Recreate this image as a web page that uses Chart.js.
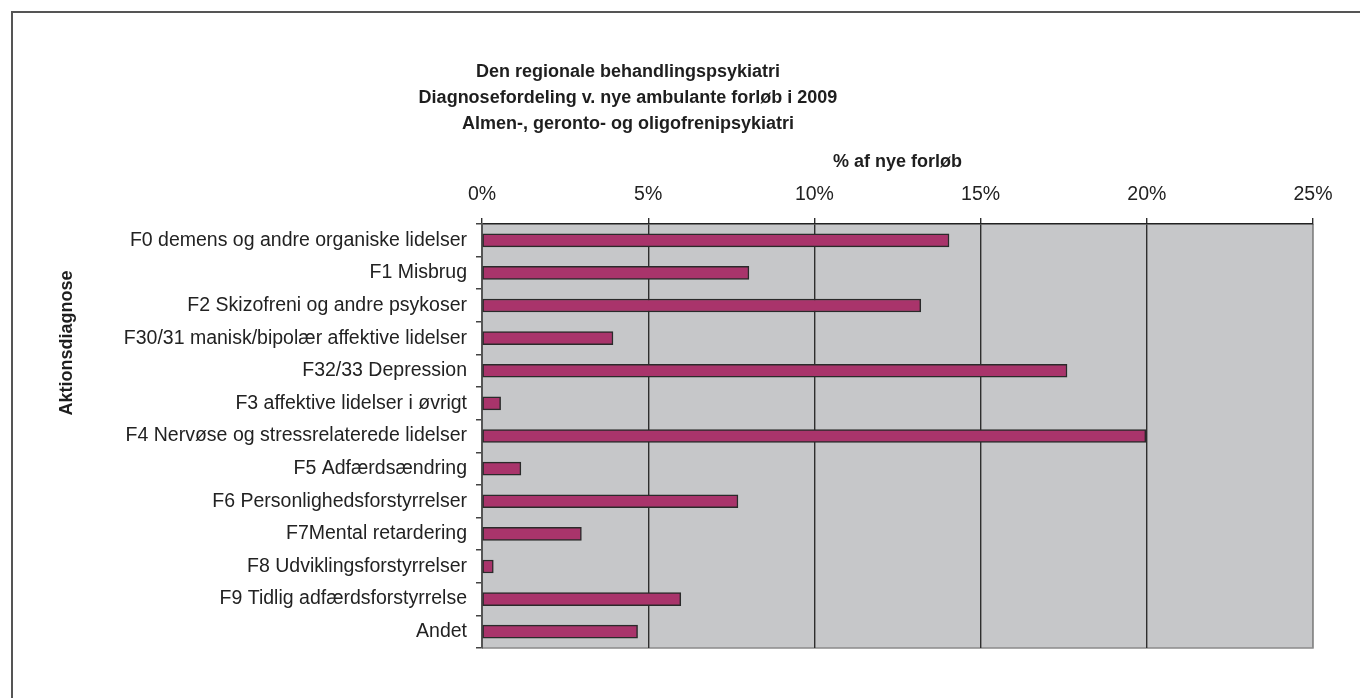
<!DOCTYPE html>
<html>
<head>
<meta charset="utf-8">
<script src="https://cdn.jsdelivr.net/npm/chart.js@4"></script>
<style>
  html, body { margin: 0; padding: 0; background: #fff; }
  canvas { display: block; }
</style>
</head>
<body>
<canvas id="myChart" width="1360" height="698"></canvas>
<script>
// Diagnosegrupper (y-aksen)
const categories = [
  'F0 demens og andre organiske lidelser',
  'F1 Misbrug',
  'F2 Skizofreni og andre psykoser',
  'F30/31 manisk/bipolær affektive lidelser',
  'F32/33 Depression',
  'F3 affektive lidelser i øvrigt',
  'F4 Nervøse og stressrelaterede lidelser',
  'F5 Adfærdsændring',
  'F6 Personlighedsforstyrrelser',
  'F7Mental retardering',
  'F8 Udviklingsforstyrrelser',
  'F9 Tidlig adfærdsforstyrrelse',
  'Andet'
];
// % af nye forløb
const values = [14.05, 8.03, 13.2, 3.94, 17.6, 0.56, 19.97, 1.17, 7.7, 2.99, 0.34, 5.98, 4.68];
const xTicks = [0, 5, 10, 15, 20, 25];

const titleLines = [
  'Den regionale behandlingspsykiatri',
  'Diagnosefordeling v. nye ambulante forløb i 2009',
  'Almen-, geronto- og oligofrenipsykiatri'
];
const xTitle = '% af nye forløb';
const yTitle = 'Aktionsdiagnose';

const FONT = "'Liberation Sans', Arial, sans-serif";

// baggrund, ramme og titler
const decor = {
  id: 'decor',
  beforeDraw(chart) {
    const c = chart.ctx, a = chart.chartArea;
    c.save();
    c.fillStyle = '#c6c7c9';
    c.fillRect(a.left, a.top, a.right - a.left, a.bottom - a.top);
    c.strokeStyle = '#8a8a8a';
    c.lineWidth = 1.5;
    c.beginPath();
    c.moveTo(a.right, a.top);
    c.lineTo(a.right, a.bottom);
    c.lineTo(a.left, a.bottom);
    c.stroke();
    // ydre ramme (kun top og venstre synlig)
    c.strokeStyle = '#555';
    c.lineWidth = 2;
    c.beginPath();
    c.moveTo(12, chart.height);
    c.lineTo(12, 12);
    c.lineTo(chart.width, 12);
    c.stroke();
    c.restore();
  },
  afterDraw(chart) {
    const c = chart.ctx;
    c.save();
    c.fillStyle = '#1e1e1e';
    c.font = 'bold 18px ' + FONT;
    c.textAlign = 'center';
    c.textBaseline = 'middle';
    titleLines.forEach((t, i) => c.fillText(t, 628, 72 + i * 26));
    c.translate(67, 343);
    c.rotate(-Math.PI / 2);
    c.fillText(yTitle, 0, 0);
    c.restore();
  }
};

const ctx = document.getElementById('myChart').getContext('2d');
const myChart = new Chart(ctx, {
  type: 'bar',
  data: {
    labels: categories,
    datasets: [{
      data: values,
      backgroundColor: '#a9346b',
      borderColor: '#2a2a2a',
      borderWidth: 1.5,
      borderSkipped: false,
      barThickness: 13
    }]
  },
  options: {
    indexAxis: 'y',
    responsive: false,
    devicePixelRatio: 1,
    animation: false,
    layout: { padding: { left: 20, top: 146, right: 47, bottom: 50 } },
    plugins: {
      legend: { display: false },
      tooltip: { enabled: false }
    },
    scales: {
      x: {
        position: 'top',
        min: 0,
        max: 25,
        afterBuildTicks(s) { s.ticks = xTicks.map(v => ({ value: v })); },
        afterFit(s) { s.height = 78; s.paddingLeft = 0; s.paddingRight = 0; },
        ticks: {
          padding: 12,
          color: '#222',
          font: { family: FONT, size: 19.5 },
          callback: v => v + '%'
        },
        grid: {
          color: c => (c.tick && c.tick.value === 25) ? '#8a8a8a' : '#2e2e2e',
          tickColor: '#2e2e2e',
          lineWidth: 1.4,
          tickLength: 6
        },
        border: { color: '#222', width: 1.5 },
        title: {
          display: true,
          text: xTitle,
          color: '#1e1e1e',
          font: { family: FONT, size: 18, weight: 'bold' },
          padding: { top: 5, bottom: 0 }
        }
      },
      y: {
        afterFit(s) { s.width = 462; s.paddingTop = 0; s.paddingBottom = 0; },
        ticks: {
          padding: 9,
          color: '#222',
          font: { family: FONT, size: 19.5 }
        },
        grid: {
          drawOnChartArea: false,
          color: '#444',
          tickLength: 6,
          lineWidth: 1.5
        },
        border: { color: '#555', width: 2 }
      }
    }
  },
  plugins: [decor]
});
</script>
</body>
</html>
